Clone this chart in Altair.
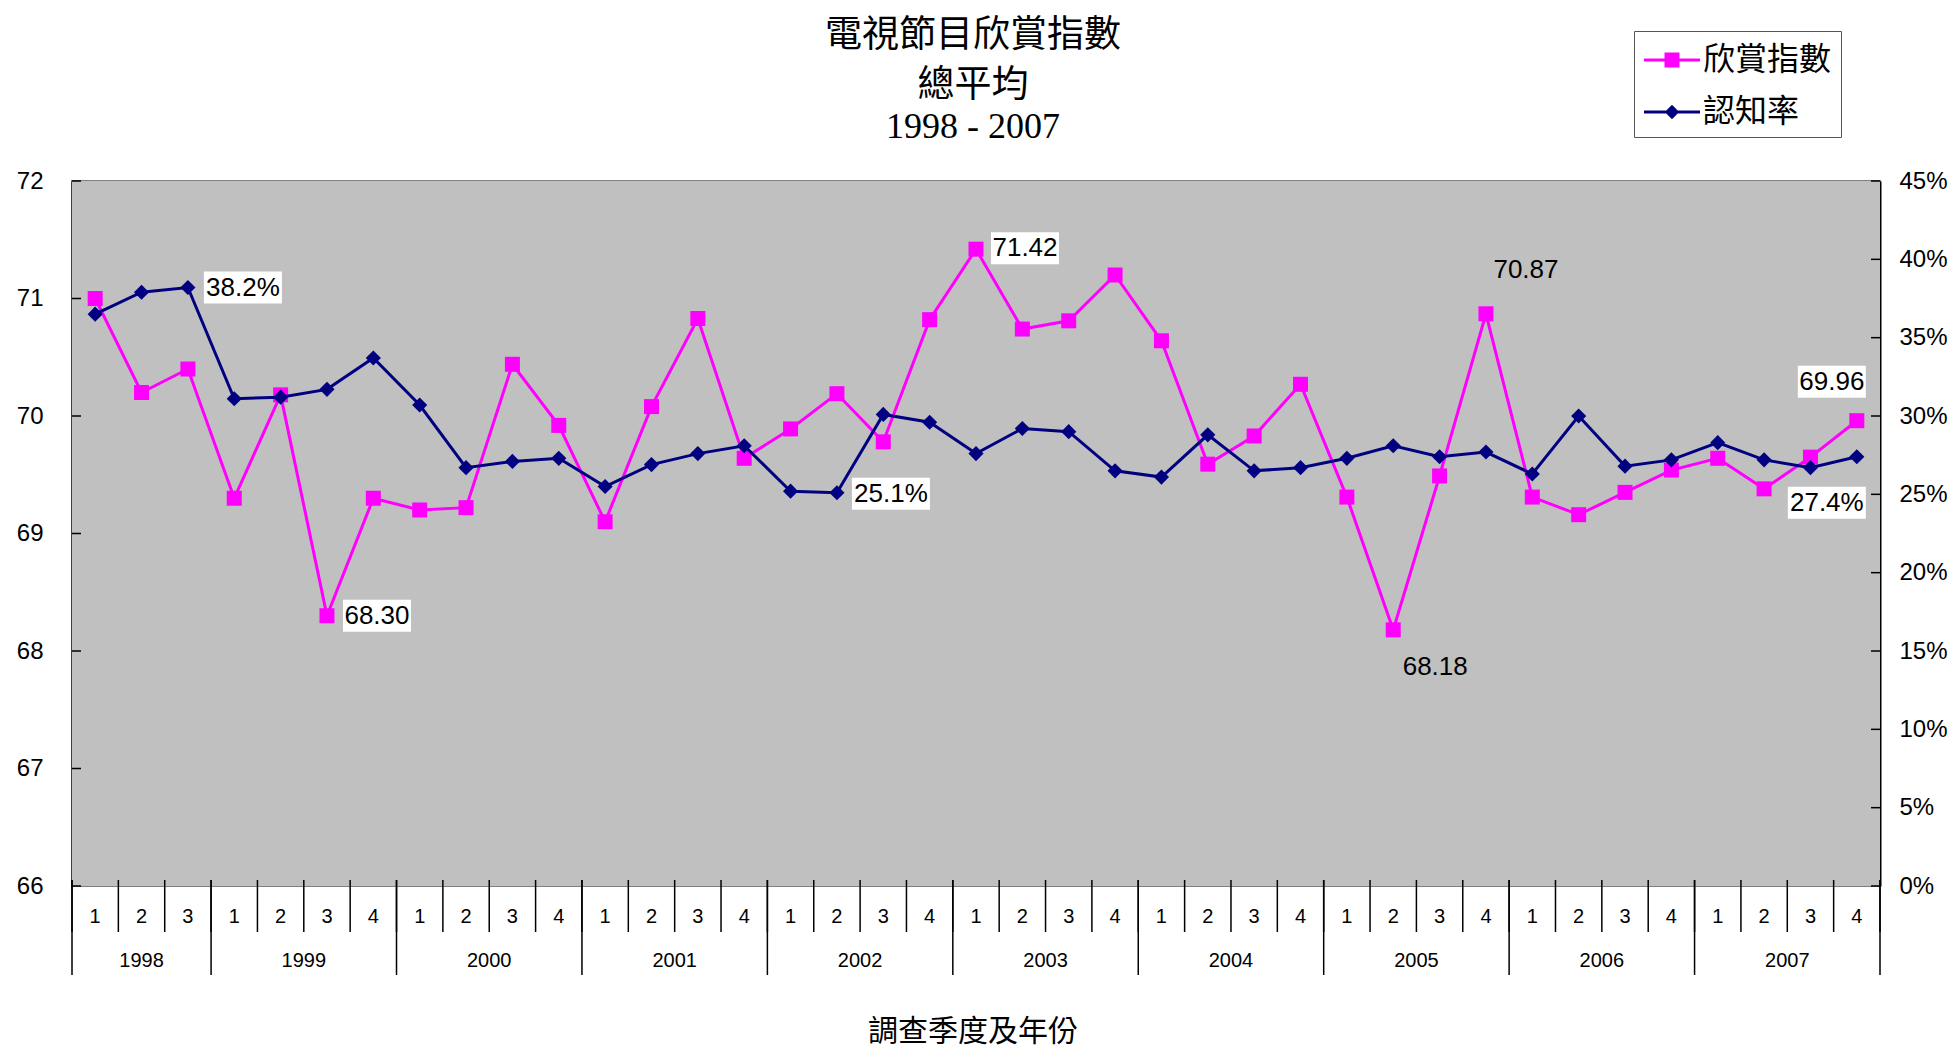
import altair as alt
import pandas as pd

# ---------------- data ----------------
series_names = ["欣賞指數", "認知率"]
title_lines = ["電視節目欣賞指數", "總平均", "1998 - 2007"]
x_title = "調查季度及年份"
years = ["1998", "1999", "2000", "2001", "2002", "2003", "2004", "2005", "2006", "2007"]
quarters_in_year = [3, 4, 4, 4, 4, 4, 4, 4, 4, 4]
quarter_labels = ["1", "2", "3"] + ["1", "2", "3", "4"] * 9

enjoy_index = [71.00, 70.20, 70.40,
               69.30, 70.18, 68.30, 69.30,
               69.20, 69.22, 70.44, 69.92,
               69.10, 70.08, 70.83, 69.64,
               69.89, 70.19, 69.78, 70.82,
               71.42, 70.74, 70.81, 71.20,
               70.64, 69.59, 69.83, 70.27,
               69.31, 68.18, 69.49, 70.87,
               69.31, 69.16, 69.35, 69.54,
               69.64, 69.38, 69.65, 69.96]
awareness = [36.5, 37.9, 38.2,
             31.1, 31.2, 31.7, 33.7,
             30.7, 26.7, 27.1, 27.3,
             25.5, 26.9, 27.6, 28.1,
             25.2, 25.1, 30.1, 29.6,
             27.6, 29.2, 29.0, 26.5,
             26.1, 28.8, 26.5, 26.7,
             27.3, 28.1, 27.4, 27.7,
             26.3, 30.0, 26.8, 27.2,
             28.3, 27.2, 26.7, 27.4]

left_ticks = [66, 67, 68, 69, 70, 71, 72]
right_ticks = [0, 0.05, 0.10, 0.15, 0.20, 0.25, 0.30, 0.35, 0.40, 0.45]

# annotations: (quarter index, dx, dy, boxed)
enjoy_notes = [(5, 50, 0, True), (19, 49, -1, True), (30, 40, -44, False),
               (28, 42, 37, False), (38, -25, -39, True)]
aware_notes = [(2, 55, 0, True), (16, 54, 1, True), (38, -30, 46, True)]

# ---------------- styling ----------------
W, H = 1808, 705
PINK = "#FF00FF"
NAVY = "#000080"
PLOT_BG = "#C0C0C0"
SANS = "Liberation Sans"
SERIF = "Liberation Serif"
CJK = "Noto Sans CJK TC"

n = len(enjoy_index)
df = pd.DataFrame({
    "pos": [i + 0.5 for i in range(n)],
    "enjoy": enjoy_index,
    "aware": [a / 100 for a in awareness],
    "q": quarter_labels,
})
bounds = [0]
for k in quarters_in_year:
    bounds.append(bounds[-1] + k)
qsep = pd.DataFrame({"b": list(range(n + 1))})
ysep = pd.DataFrame({"b": bounds})
ylab = pd.DataFrame({"c": [(bounds[i] + bounds[i + 1]) / 2 for i in range(len(years))], "y": years})

xs = alt.Scale(domain=[0, n], nice=False, zero=False)
ysL = alt.Scale(domain=[66, 72], nice=False, zero=False)
ysR = alt.Scale(domain=[0, 0.45], nice=False, zero=False)
X = alt.X("pos:Q", scale=xs, axis=None)

left_axis = alt.Axis(orient="left", values=left_ticks, ticks=False, grid=False,
                     labelFont=SANS, labelFontSize=24, labelColor="black",
                     labelPadding=29, domainColor="black", domainWidth=2)
right_axis = alt.Axis(orient="right", values=right_ticks, format=".0%", ticks=False,
                      grid=False, labelFont=SANS, labelFontSize=24, labelColor="black",
                      labelPadding=19, domainColor="black", domainWidth=2)

layers = []

# plot-area background
layers.append(alt.Chart(pd.DataFrame({"a": [0]})).mark_rect(color=PLOT_BG).encode(
    x=alt.value(0), x2=alt.value(W), y=alt.value(0), y2=alt.value(H)))


# titles as text
def text_line(t, y, font, size):
    return alt.Chart(pd.DataFrame({"t": [t]})).mark_text(
        font=font, fontSize=size, color="black", align="center", baseline="middle").encode(
        x=alt.value(W / 2 - 3), y=alt.value(y), text="t:N")


layers += [text_line(title_lines[0], -145, CJK, 37),
           text_line(title_lines[1], -95, CJK, 37),
           text_line(title_lines[2], -54, SERIF, 36),
           text_line(x_title, H + 146, CJK, 30)]

# category axis decorations
layers.append(alt.Chart(qsep).mark_rule(color="black", strokeWidth=1.5).encode(
    x=alt.X("b:Q", scale=xs, axis=None), y=alt.value(H - 6), y2=alt.value(H + 46)))
layers.append(alt.Chart(ysep).mark_rule(color="black", strokeWidth=1.5).encode(
    x=alt.X("b:Q", scale=xs, axis=None), y=alt.value(H - 6), y2=alt.value(H + 89)))
layers.append(alt.Chart(df).mark_text(font=SANS, fontSize=20, color="black", baseline="middle").encode(
    x=X, y=alt.value(H + 31), text="q:N"))
layers.append(alt.Chart(ylab).mark_text(font=SANS, fontSize=20, color="black", baseline="middle").encode(
    x=alt.X("c:Q", scale=xs, axis=None), y=alt.value(H + 75), text="y:N"))

# inward value-axis ticks
layers.append(alt.Chart(pd.DataFrame({"t": left_ticks})).mark_rule(color="black", strokeWidth=1.5).encode(
    y=alt.Y("t:Q", scale=ysL, axis=None), x=alt.value(0), x2=alt.value(9)))
layers.append(alt.Chart(pd.DataFrame({"t": right_ticks})).mark_rule(color="black", strokeWidth=1.5).encode(
    y=alt.Y("t:Q", scale=ysR, axis=None), x=alt.value(W - 9), x2=alt.value(W)))

# series
layers.append(alt.Chart(df).mark_line(color=PINK, strokeWidth=3).encode(
    x=X, y=alt.Y("enjoy:Q", scale=ysL, axis=left_axis, title=None)))
layers.append(alt.Chart(df).mark_point(shape="square", size=225, filled=True, opacity=1,
                                       color=PINK, strokeWidth=0).encode(
    x=X, y=alt.Y("enjoy:Q", scale=ysL, axis=None)))
layers.append(alt.Chart(df).mark_line(color=NAVY, strokeWidth=3).encode(
    x=X, y=alt.Y("aware:Q", scale=ysR, axis=right_axis, title=None)))
layers.append(alt.Chart(df).mark_point(shape="diamond", size=230, filled=True, opacity=1,
                                       color=NAVY, strokeWidth=0).encode(
    x=X, y=alt.Y("aware:Q", scale=ysR, axis=None)))


def notes(specs, values, fmt, scale, box_w):
    out = []
    for i, dx, dy, boxed in specs:
        d = pd.DataFrame({"pos": [i + 0.5], "v": [values[i]], "t": [fmt(values[i])]})
        Y = alt.Y("v:Q", scale=scale, axis=None)
        if boxed:
            r = 32 / box_w
            path = f"M-1,-{r:.4f}H1V{r:.4f}H-1Z"
            out.append(alt.Chart(d).mark_point(shape=path, size=box_w * box_w, filled=True,
                                               opacity=1, color="white", strokeWidth=0,
                                               xOffset=dx, yOffset=dy).encode(x=X, y=Y))
        out.append(alt.Chart(d).mark_text(font=SANS, fontSize=26, color="black", align="center",
                                          baseline="middle", dx=dx, dy=dy).encode(
            x=X, y=Y, text="t:N"))
    return out


layers += notes(enjoy_notes, enjoy_index, lambda v: f"{v:.2f}", ysL, 68)
layers += notes(aware_notes, [a / 100 for a in awareness], lambda v: f"{v * 100:.1f}%", ysR, 78)

# legend (symbols: line with marker)
sq_path = "M-1.4,-0.075H1.4V0.075H-1.4Z M-0.375,-0.375H0.375V0.375H-0.375Z"
di_path = "M-1.4,-0.075H1.4V0.075H-1.4Z M0,-0.36L0.36,0L0,0.36L-0.36,0Z"
leg = alt.Legend(orient="none", legendX=1562, legendY=-150, title=None,
                 labelFont=CJK, labelFontSize=32, labelColor="black",
                 symbolSize=1600, symbolStrokeWidth=0, symbolOffset=9, labelOffset=11,
                 rowPadding=16, padding=9, strokeColor="#555555", fillColor="white")
layers.append(alt.Chart(pd.DataFrame({"series": series_names})).transform_filter(
    "datum.series == 'none'").mark_point(filled=True, opacity=1, strokeWidth=0).encode(
    color=alt.Color("series:N", scale=alt.Scale(domain=series_names, range=[PINK, NAVY]), legend=leg),
    shape=alt.Shape("series:N", scale=alt.Scale(domain=series_names, range=[sq_path, di_path]), legend=leg),
))

chart = alt.layer(*layers).resolve_scale(y="independent").properties(
    width=W, height=H, background="white",
    padding={"left": 8, "top": 9, "right": 0, "bottom": 0},
).configure_view(stroke="#808080", strokeWidth=2)

chart.save("out.html", embed_options={"renderer": "svg", "actions": False})
